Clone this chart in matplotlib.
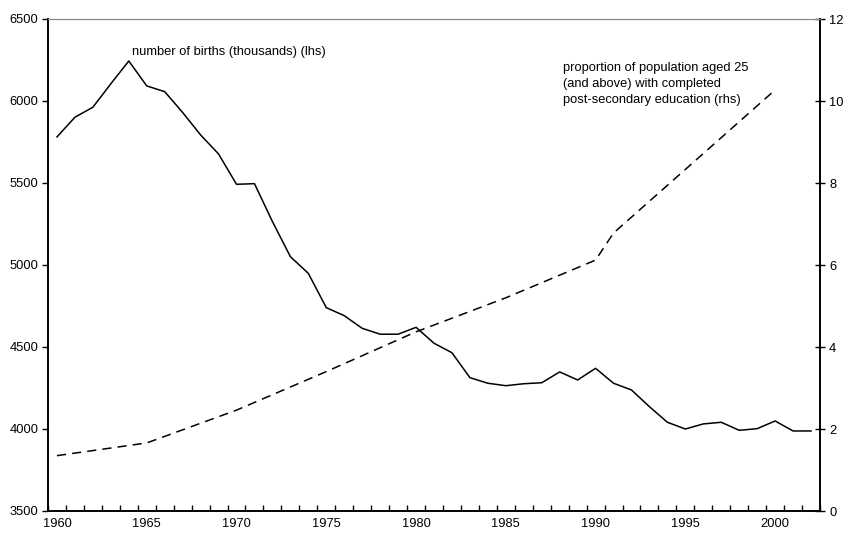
import matplotlib
matplotlib.use("Agg")
import matplotlib.pyplot as plt
import numpy as np

plt.rcParams['font.family'] = ['Liberation Sans', 'DejaVu Sans']

# births (thousands), lhs
years = list(range(1960, 2003))
births = [5781, 5901, 5962, 6105, 6244, 6092, 6057, 5930, 5793, 5677,
          5492, 5496, 5265, 5051, 4949, 4740, 4691, 4614, 4578, 4578,
          4620, 4523, 4465, 4313, 4279, 4264, 4276, 4282, 4348, 4299,
          4370, 4279, 4238, 4136, 4041, 4000, 4031, 4041, 3992, 4002,
          4049, 3988, 3988]

# share with completed post-secondary education (%), rhs
edu_years = [1960, 1965, 1970, 1975, 1980, 1985, 1990, 1991, 2000]
edu_share = [1.35, 1.66, 2.46, 3.40, 4.37, 5.20, 6.12, 6.78, 10.27]

fig = plt.figure(figsize=(8.45, 5.38), dpi=100)
ax = fig.add_axes([48/845, 27/538, 772/845, 492/538])
ax2 = ax.twinx()

ax.plot(years, births, color='black', lw=1.1)
ax2.plot(edu_years, edu_share, color='black', lw=1.1, ls=(0, (6, 4)))

ax.set_xlim(1959.5, 2002.5)
ax.set_ylim(3500, 6500)
ax2.set_ylim(0, 12)

ax.set_xticks(range(1960, 2001, 5))
ax.set_xticks(np.arange(1959.5, 2002.6, 1), minor=True)
ax.tick_params(axis='x', which='major', length=0, pad=5, labelsize=9.3)
ax.tick_params(axis='x', which='minor', direction='in', length=4, width=1)
ax.set_yticks(range(3500, 6501, 500))
ax.tick_params(axis='y', direction='out', length=4, width=1, labelsize=9.3, pad=3)
ax2.set_yticks(range(0, 13, 2))
ax2.tick_params(axis='y', direction='inout', length=7, width=1, labelsize=9.3, pad=3)

for a in (ax, ax2):
    a.spines['top'].set_color('#888888')
    a.spines['left'].set_linewidth(1.2)
    a.spines['right'].set_linewidth(1.2)
    a.spines['bottom'].set_linewidth(1.2)

ax.text(1964.2, 6300, "number of births (thousands) (lhs)", fontsize=9.3, va='center')
ax2.text(1988.2, 10.41, "proportion of population aged 25\n(and above) with completed\npost-secondary education (rhs)",
         fontsize=9.3, va='center', linespacing=1.42)

fig.savefig("out.png", dpi=100)
